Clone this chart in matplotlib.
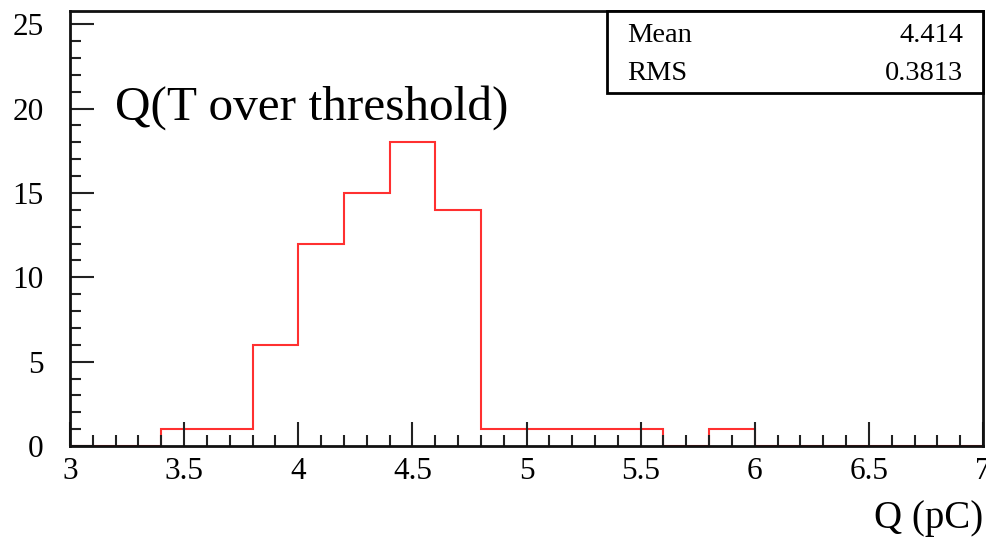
import numpy as np
import matplotlib
matplotlib.use("Agg")
import matplotlib.pyplot as plt
from matplotlib.ticker import MultipleLocator, FuncFormatter
from matplotlib.patches import Rectangle

# Data
bin_edges = [3.0, 3.2, 3.4, 3.6, 3.8, 4.0, 4.2, 4.4, 4.6, 4.8, 5.0,
             5.2, 5.4, 5.6, 5.8, 6.0, 6.2, 6.4, 6.6, 6.8, 7.0]
counts = [0, 0, 1, 1, 6, 12, 15, 18, 14, 1, 1, 1, 1, 0, 1, 0, 0, 0, 0, 0]
stat_names = ["Mean", "RMS"]
stat_values = ["4.414", "0.3813"]
label_text = "Q(T over threshold)"
x_label = "Q (pC)"

plt.rcParams['font.family'] = ['Liberation Serif', 'DejaVu Serif']

fig = plt.figure(figsize=(9.86, 5.42), dpi=100)
ax = fig.add_axes([70/986, 1-446/542, (983-70)/986, (446-11)/542])

ax.stairs(counts, bin_edges, color='#ff3030', lw=1.5, baseline=None)

ax.set_xlim(3, 7)
ax.set_ylim(0, 25.78)
ax.xaxis.set_major_locator(MultipleLocator(0.5))
ax.xaxis.set_minor_locator(MultipleLocator(0.1))
ax.yaxis.set_major_locator(MultipleLocator(5))
ax.yaxis.set_minor_locator(MultipleLocator(1))
ax.tick_params(which='both', direction='in', top=False, right=False,
               width=1.5, color='#222222')
ax.tick_params(which='major', length=17, labelsize=22.5)
ax.tick_params(which='minor', length=8)
ax.tick_params(axis='y', which='major', pad=19)
ax.tick_params(axis='x', which='major', pad=8)
ax.xaxis.set_major_formatter(FuncFormatter(lambda v, p: f"{v:g}"))
for s in ax.spines.values():
    s.set_linewidth(2)
    s.set_color('#111111')

fig.text(983/986, 1-528/542, x_label, ha='right', va='baseline', fontsize=28)
fig.text(115/986, 1-120/542, label_text, ha='left', va='baseline', fontsize=35.5)

# Stats box
box = Rectangle((607/986, 1-93/542), (983-607)/986, (93-11)/542,
                transform=fig.transFigure, fill=True, facecolor='white',
                edgecolor='black', lw=2, zorder=5)
fig.add_artist(box)
rows_y = [42, 80]
for name, val, yy in zip(stat_names, stat_values, rows_y):
    fig.text(627/986, 1-yy/542, name, ha='left', va='baseline', fontsize=20.5, zorder=6)
    fig.text(963/986, 1-yy/542, val, ha='right', va='baseline', fontsize=20.5, zorder=6)

fig.savefig("out.png", dpi=100)
